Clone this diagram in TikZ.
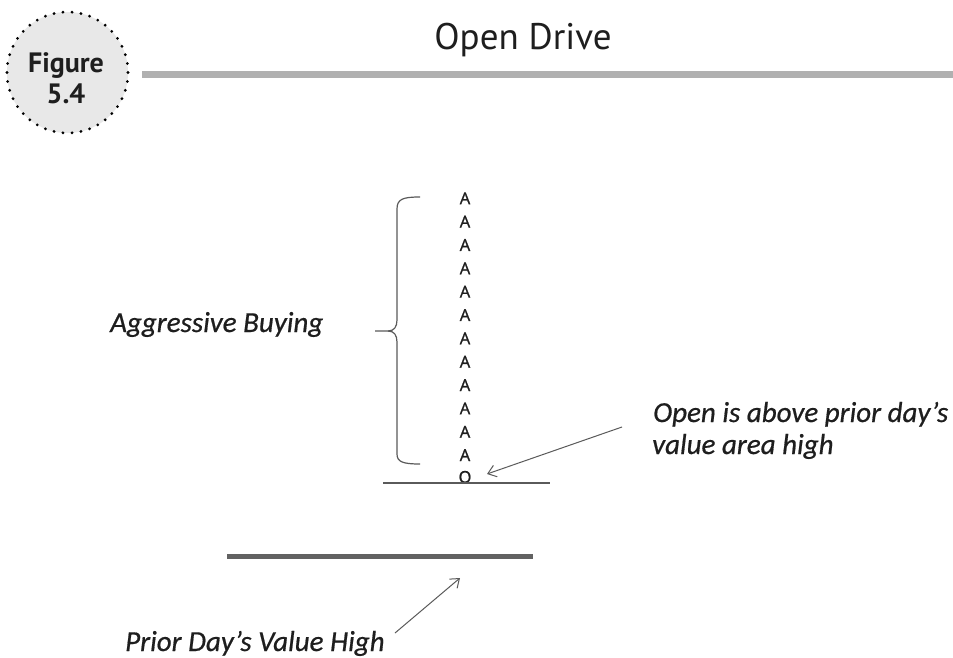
\documentclass[tikz,border=0pt]{standalone}
\usepackage{fontspec}
\setmainfont{Carlito}
\newfontfamily\notefont{Carlito}[ItalicFeatures={FakeBold=0.6}]
\newfontfamily\ptsans{PT Sans}
\newfontfamily\tpofont{Open Sans}[FakeBold=1.2]
\usetikzlibrary{arrows.meta}
\definecolor{rulegray}{HTML}{B0B0B0}
\definecolor{badgefill}{HTML}{E8E8E8}
\definecolor{inkc}{HTML}{1E1E1E}
\definecolor{lineg}{HTML}{5A5A5A}
\definecolor{thickg}{HTML}{626262}
\tikzset{
  badgecircle/.style={circle, fill=badgefill, draw=black, line width=3.1pt,
    dash pattern=on 0pt off 9.05pt, line cap=round, minimum size=121pt, inner sep=0pt},
  badgetext/.style={align=center, text=inkc, inner sep=0pt,
    font=\ptsans\bfseries\fontsize{28}{31}\selectfont},
  titletext/.style={text=inkc, inner sep=0pt, anchor=base,
    font=\ptsans\fontsize{37}{40}\selectfont},
  note/.style={text=inkc, inner sep=0pt, anchor=base west,
    font=\notefont\itshape\fontsize{29}{32}\selectfont},
  tpo/.style={text=inkc, inner sep=0pt, font=\tpofont\fontsize{16.5}{18}\selectfont},
  thinline/.style={draw=lineg, line width=1.3pt},
  pointer/.style={draw=lineg, line width=1pt, -{Straight Barb[length=8pt,width=12pt]}},
}
\begin{document}
\begin{tikzpicture}[x=1pt,y=-1pt]
\useasboundingbox[fill=white] (0,0) rectangle (953,658);
% header
\node[badgecircle] (badge) at (67.5,72.5) {};
\node[badgetext] (figlabel) at (66,78) {Figure\\5.4};
\node[titletext] (title) at (523,50) {Open Drive};
\draw[rulegray, line width=7pt] (142,74.5) -- (953,74.5);
% TPO column
\foreach \i in {1,...,12}{
  \node[tpo] (A\i) at (465,{198.3+(\i-1)*23.35}) {A};
}
\node[tpo] (O) at (465,477) {O};
\draw[thinline] (383,483) -- (550,483);
% prior day's value high
\draw[thickg, line width=5pt] (227,556) -- (533,556);
% brace
\draw[thinline, line width=1.2pt]
  (420,197) .. controls (403,197) and (397,199) .. (397,209) -- (397,320)
  .. controls (397,327) and (394,331) .. (388,331) -- (375,331);
\draw[thinline, line width=1.2pt]
  (388,331) .. controls (394,331) and (397,335) .. (397,342) -- (397,454)
  .. controls (397,462) and (403,464) .. (420,464);
% labels
\node[note] (buying) at (110,332) {Aggressive Buying};
\node[note] (openA) at (653,422) {Open is above prior day’s};
\node[note] (openB) at (652,454) {value area high};
\node[note] (prior) at (125,651) {Prior Day’s Value High};
% pointers
\coordinate (p1start) at (622,427);
\coordinate (p1tip) at (487,474);
\draw[pointer] (p1start) -- (p1tip);
\coordinate (p2start) at (395,633);
\coordinate (p2tip) at (460,578);
\draw[pointer] (p2start) -- (p2tip);
\end{tikzpicture}
\end{document}
